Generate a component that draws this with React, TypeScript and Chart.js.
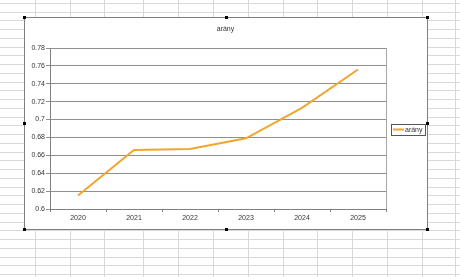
import { useEffect, useRef } from "react";
import { Chart, registerables } from "chart.js";

Chart.register(...registerables);

const categories = ["2020", "2021", "2022", "2023", "2024", "2025"];
const aranyValues = [0.615, 0.666, 0.667, 0.679, 0.713, 0.756];
const seriesName = "arány";
const chartTitle = "arány";
const yMin = 0.6;
const yMax = 0.78;
const yStep = 0.02;

const W = 460;
const H = 277;
const FONT = "'Liberation Sans', Arial, sans-serif";
const TEXT = "#333333";
const LINE = "#f2a52e";

// spreadsheet look (decoration only)
const sheetCols = [35, 70, 104, 143, 178, 213, 248, 283, 317, 352, 387, 422, 455];
const frame = { l: 24, t: 17, r: 427, b: 229 };

const sheetPlugin = {
  id: "sheet",
  beforeDraw(chart: any) {
    const ctx = chart.ctx;
    ctx.save();
    ctx.fillStyle = "#ffffff";
    ctx.fillRect(0, 0, W, H);
    ctx.strokeStyle = "#d9d9d9";
    ctx.lineWidth = 1;
    ctx.beginPath();
    for (const x of sheetCols) {
      ctx.moveTo(x + 0.5, 0);
      ctx.lineTo(x + 0.5, H);
    }
    for (let y = 2.75; y < H; y += 8.75) {
      const yy = Math.round(y) + 0.5;
      ctx.moveTo(0, yy);
      ctx.lineTo(W, yy);
    }
    ctx.stroke();
    ctx.fillStyle = "#ffffff";
    ctx.fillRect(frame.l, frame.t, frame.r - frame.l, frame.b - frame.t);
    ctx.strokeStyle = "#7f7f7f";
    ctx.strokeRect(frame.l + 0.5, frame.t + 0.5, frame.r - frame.l, frame.b - frame.t);
    ctx.restore();
  },
  beforeDatasetsDraw(chart: any) {
    const { ctx, chartArea } = chart;
    ctx.save();
    ctx.strokeStyle = "#a6a6a6";
    ctx.lineWidth = 1;
    ctx.beginPath();
    ctx.moveTo(Math.round(chartArea.right) + 0.5, chartArea.top);
    ctx.lineTo(Math.round(chartArea.right) + 0.5, chartArea.bottom);
    ctx.stroke();
    ctx.restore();
  },
  afterDraw(chart: any) {
    const ctx = chart.ctx;
    ctx.save();
    // legend box
    const lx = 391, ly = 124, lw = 34, lh = 11;
    ctx.fillStyle = "#ffffff";
    ctx.fillRect(lx, ly, lw, lh);
    ctx.strokeStyle = "#555555";
    ctx.lineWidth = 1;
    ctx.strokeRect(lx + 0.5, ly + 0.5, lw, lh);
    const ds = chart.data.datasets[0];
    ctx.strokeStyle = ds.borderColor;
    ctx.lineWidth = 2;
    ctx.beginPath();
    ctx.moveTo(393, 129.5);
    ctx.lineTo(404, 129.5);
    ctx.stroke();
    ctx.fillStyle = TEXT;
    ctx.font = `7px ${FONT}`;
    ctx.textBaseline = "middle";
    ctx.textAlign = "left";
    ctx.fillText(ds.label, 405, 129.8);
    // selection handles
    ctx.fillStyle = "#000000";
    const mx = (frame.l + frame.r) / 2;
    const my = (frame.t + frame.b) / 2;
    const pts = [
      [frame.l, frame.t], [mx, frame.t], [frame.r, frame.t],
      [frame.l, my], [frame.r, my],
      [frame.l, frame.b], [mx, frame.b], [frame.r, frame.b],
    ];
    for (const [x, y] of pts) ctx.fillRect(Math.round(x) - 1, Math.round(y) - 1, 3, 3);
    ctx.restore();
  },
};

export default function App() {
  const ref = useRef<HTMLCanvasElement>(null);
  useEffect(() => {
    document.body.style.margin = "0";
    const chart = new Chart(ref.current!, {
      type: "line",
      data: {
        labels: categories,
        datasets: [
          {
            label: seriesName,
            data: aranyValues,
            borderColor: LINE,
            backgroundColor: LINE,
            borderWidth: 2,
            pointRadius: 0,
            tension: 0,
          },
        ],
      },
      options: {
        responsive: false,
        animation: false,
        layout: { padding: { left: 24, right: W - 427, top: 17, bottom: H - 229 } },
        plugins: {
          legend: { display: false },
          tooltip: { enabled: false },
          title: {
            display: true,
            text: chartTitle,
            color: TEXT,
            font: { family: FONT, size: 7, weight: "normal" },
            padding: { top: 7.6, bottom: 15 },
          },
        },
        scales: {
          x: {
            type: "category",
            offset: true,
            grid: { display: true, drawOnChartArea: false, drawTicks: true, tickLength: 3, color: "#808080", offset: true },
            border: { display: true, color: "#808080" },
            ticks: { color: TEXT, font: { family: FONT, size: 7 }, padding: 2, maxRotation: 0, autoSkip: false },
            afterFit(scale: any) { scale.height = 20; },
          },
          y: {
            min: yMin,
            max: yMax,
            grid: { color: "#8f8f8f", tickLength: 4, drawTicks: true },
            border: { display: true, color: "#808080" },
            ticks: {
              stepSize: yStep,
              color: TEXT,
              font: { family: FONT, size: 7 },
              padding: 1,
              callback: (v: any) => String(Number(Number(v).toFixed(2))),
            },
            afterFit(scale: any) { scale.width = 26; },
          },
          legendSpace: {
            type: "linear",
            position: "right",
            display: true,
            grid: { display: false, drawTicks: false },
            border: { display: false },
            ticks: { display: false },
            afterFit(scale: any) { scale.width = 427 - 386; },
          },
        },
      },
      plugins: [sheetPlugin],
    });
    return () => chart.destroy();
  }, []);
  return <canvas ref={ref} width={W} height={H} style={{ display: "block", width: W, height: H }} />;
}
